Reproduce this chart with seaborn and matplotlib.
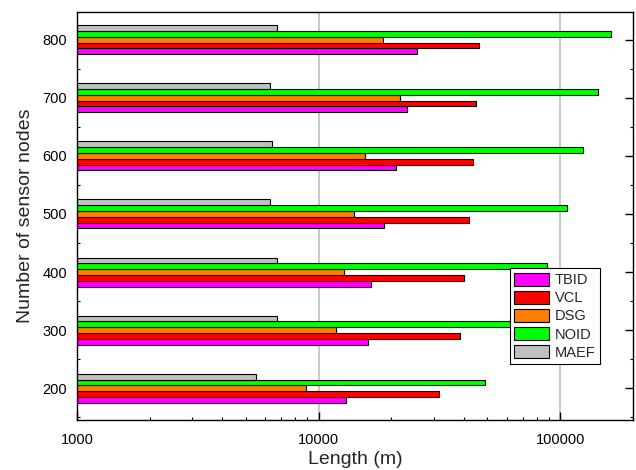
import matplotlib
matplotlib.use("Agg")
import matplotlib.pyplot as plt
import seaborn as sns
import pandas as pd
from matplotlib.ticker import FixedLocator, NullFormatter, LogLocator

# ==========================================
# Data
# ==========================================
nodes = [200, 300, 400, 500, 600, 700, 800]
methods = ["TBID", "VCL", "DSG", "NOID", "MAEF"]

tbid = [13000, 16100, 16500, 18600, 20900, 23300, 25600]
vcl = [31400, 38500, 39900, 41800, 43700, 44800, 46200]
dsg = [8900, 11800, 12700, 14000, 15600, 21800, 18500]
noid = [48800, 68000, 88000, 106800, 124600, 143300, 162500]
maef = [5500, 6700, 6700, 6300, 6400, 6300, 6700]

colors = ["#ff00ff", "#ff0000", "#ff8000", "#00ff00", "#c0c0c0"]

rows = []
for name, vals in zip(methods, [tbid, vcl, dsg, noid, maef]):
    for n, v in zip(nodes, vals):
        rows.append({"nodes": n, "length": v, "method": name})
df = pd.DataFrame(rows)

# ==========================================
# Plot
# ==========================================
sns.set_style("ticks")
plt.rcParams["font.family"] = ["Liberation Sans", "DejaVu Sans"]

fig = plt.figure(figsize=(6.36, 4.70), dpi=100)
ax = fig.add_axes([0.121, 0.106, 0.874, 0.869])
ax.set_xscale("log")

sns.barplot(
    data=df, x="length", y="nodes", hue="method", hue_order=methods,
    palette=colors, orient="y", native_scale=True, width=0.5,
    edgecolor="black", linewidth=0.8, saturation=1, errorbar=None, ax=ax,
)

ax.set_xlim(1000, 200000)
ax.set_ylim(145, 848)
ax.set_xticks([1000, 10000, 100000])
ax.set_xticklabels(["1000", "10000", "100000"])
ax.xaxis.set_minor_locator(LogLocator(base=10, subs=range(2, 10)))
ax.xaxis.set_minor_formatter(NullFormatter())
ax.set_yticks(nodes)
ax.set_yticklabels([str(n) for n in nodes])
ax.yaxis.set_minor_locator(FixedLocator([150, 250, 350, 450, 550, 650, 750, 850]))

ax.grid(axis="x", which="major", color="#c0c0c0", linewidth=1.2)
ax.set_axisbelow(True)

ax.tick_params(axis="both", which="both", direction="in", labelsize=10.5,
               colors="black", top=False, right=True)
ax.tick_params(axis="both", which="major", length=6, width=1)
ax.tick_params(axis="both", which="minor", length=2, width=0.8)
ax.tick_params(axis="x", pad=9)
ax.tick_params(axis="y", pad=7)
for sp in ax.spines.values():
    sp.set_color("black")
    sp.set_linewidth(1.0)

ax.set_xlabel("Length (m)", fontsize=14, labelpad=3)
ax.set_ylabel("Number of sensor nodes", fontsize=14, labelpad=6)

leg = ax.legend(loc="upper left", bbox_to_anchor=(0.779, 0.372), borderaxespad=0,
                fontsize=10.5, frameon=True, fancybox=False, framealpha=1,
                edgecolor="black", handlelength=2.4, handleheight=1.0,
                handletextpad=0.35, labelspacing=0.25, borderpad=0.3)
leg.get_frame().set_linewidth(0.8)

fig.savefig("out.png", dpi=100)
plt.close(fig)
